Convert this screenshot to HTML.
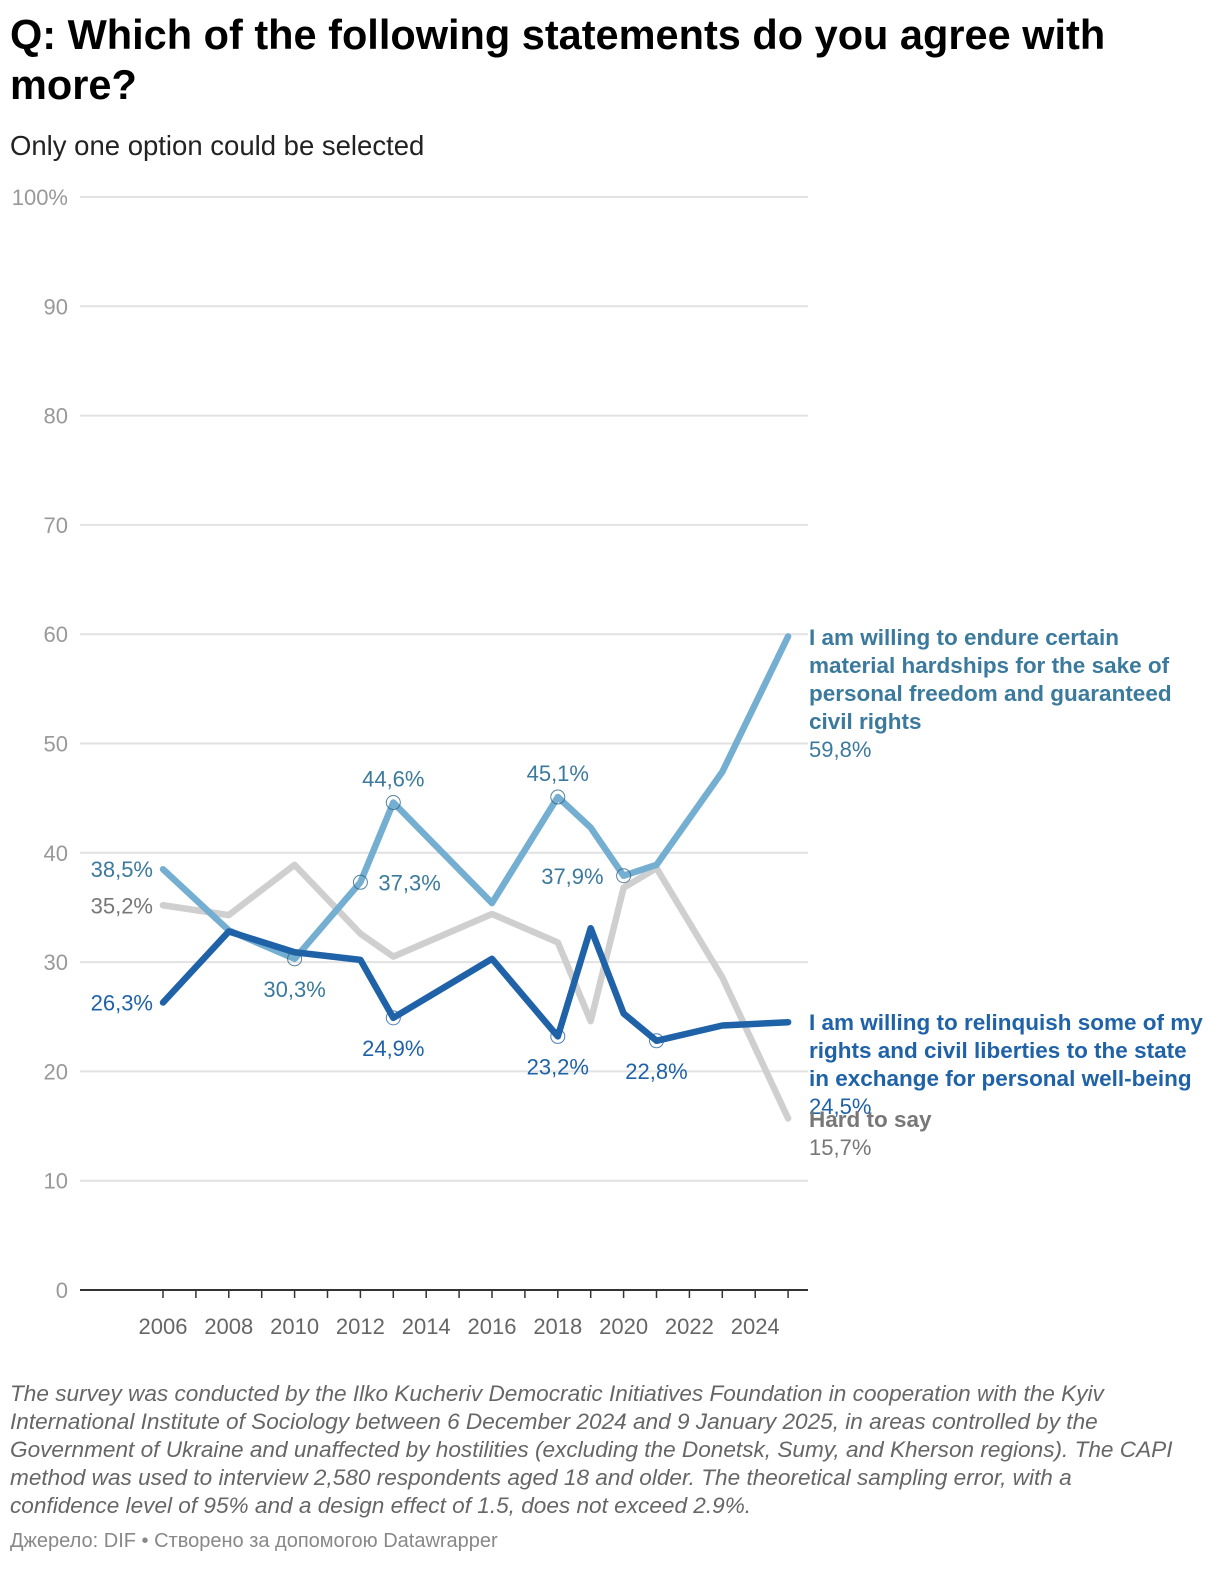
<!DOCTYPE html>
<html><head><meta charset="utf-8">
<style>
body{margin:0;background:#fff;font-family:"Liberation Sans",sans-serif;width:1220px;height:1570px;overflow:hidden;position:relative}
h1{position:absolute;left:10px;top:10px;margin:0;font-size:41.5px;line-height:50px;font-weight:bold;color:#000;width:1180px}
.sub{position:absolute;left:10px;top:130px;font-size:27.5px;color:#222}
.note{position:absolute;left:10px;top:1380px;font-size:22.6px;line-height:28px;font-style:italic;color:#666;white-space:nowrap}
.src{position:absolute;left:10px;top:1530px;font-size:20px;color:#888}
svg{position:absolute;left:0;top:0}
</style></head><body>
<h1>Q: Which of the following statements do you agree with more?</h1>
<div class="sub">Only one option could be selected</div>
<svg id="c" width="1220" height="1370"></svg>
<div class="note">The survey was conducted by the Ilko Kucheriv Democratic Initiatives Foundation in cooperation with the Kyiv<br>International Institute of Sociology between 6 December 2024 and 9 January 2025, in areas controlled by the<br>Government of Ukraine and unaffected by hostilities (excluding the Donetsk, Sumy, and Kherson regions). The CAPI<br>method was used to interview 2,580 respondents aged 18 and older. The theoretical sampling error, with a<br>confidence level of 95% and a design effect of 1.5, does not exceed 2.9%.</div>
<div class="src">Джерело: DIF • Створено за допомогою Datawrapper</div>
<script>
const years=[2006,2008,2010,2012,2013,2016,2018,2019,2020,2021,2023,2025];
const endure=[38.5,32.9,30.3,37.3,44.6,35.4,45.1,42.3,37.9,38.9,47.4,59.8];
const relinquish=[26.3,32.8,30.9,30.2,24.9,30.3,23.2,33.1,25.3,22.8,24.2,24.5];
const hard=[35.2,34.3,38.9,32.6,30.5,34.4,31.8,24.6,36.8,38.6,28.6,15.7];
const yTicks=[0,10,20,30,40,50,60,70,80,90,100];
const xTicks=[2006,2008,2010,2012,2014,2016,2018,2020,2022,2024];
const NS="http://www.w3.org/2000/svg";
const svg=document.getElementById('c');
const X=y=>163+(y-2006)*32.9;
const Y=v=>1290-v*10.93;
function el(t,a,txt){const e=document.createElementNS(NS,t);for(const k in a)e.setAttribute(k,a[k]);if(txt!==undefined)e.textContent=txt;svg.appendChild(e);return e;}
yTicks.forEach(v=>{
 if(v>0){const g=el('line',{x1:80,x2:808,y1:Y(v),y2:Y(v),stroke:'#e2e2e2','stroke-width':2});
 
 }
 const t=el('text',{x:68,y:Y(v)+8,'text-anchor':'end','font-size':22,fill:'#999'},v===100?'100%':v);
 
 
});
const ax=el('line',{x1:80,x2:808,y1:1290,y2:1290,stroke:'#333','stroke-width':2});


for(let y=2006;y<=2025;y++){const tk=el('line',{x1:X(y),x2:X(y),y1:1290,y2:1298,stroke:'#333','stroke-width':1.5});
 
 }
xTicks.forEach(y=>{const t=el('text',{x:X(y),y:1334,'text-anchor':'middle','font-size':22,fill:'#666'},y);
 
 });
function line(vals,col,name){const p=el('polyline',{points:years.map((y,i)=>X(y)+','+Y(vals[i])).join(' '),fill:'none',stroke:col,'stroke-width':6.5,'stroke-linejoin':'round','stroke-linecap':'round'});
 
 }
line(hard,'#cfcfcf','hard-to-say-line');
line(endure,'#74aed0','endure-hardships-line');
line(relinquish,'#1f62a8','relinquish-rights-line');
function mark(vals,idxs,col){idxs.forEach(i=>{const c=el('circle',{cx:X(years[i]),cy:Y(vals[i]),r:7,fill:'none',stroke:col,'stroke-width':1,opacity:0.8});
 
 });}
mark(endure,[2,3,4,6,8],'#2a6486');
mark(relinquish,[4,6,9],'#1f62a8');
function lab(txt,x,y,col,anchor){const t=el('text',{x:x,y:y,'text-anchor':anchor||'middle','font-size':22,fill:col},txt);
 
 }
const fmt=v=>v.toFixed(1).replace('.',',')+'%';
const cE='#3b7a9c',cR='#1f62a8',cH='#777';
lab(fmt(endure[0]),153,Y(endure[0])+8,cE,'end');
lab(fmt(hard[0]),153,Y(hard[0])+8,cH,'end');
lab(fmt(relinquish[0]),153,Y(relinquish[0])+8,cR,'end');
lab(fmt(endure[2]),X(2010),Y(endure[2])+38,cE);
lab(fmt(endure[3]),X(2012)+18,Y(endure[3])+8,cE,'start');
lab(fmt(endure[4]),X(2013),Y(endure[4])-16,cE);
lab(fmt(endure[6]),X(2018),Y(endure[6])-16,cE);
lab(fmt(endure[8]),X(2020)-20,Y(endure[8])+8,cE,'end');
lab(fmt(relinquish[4]),X(2013),Y(relinquish[4])+38,cR);
lab(fmt(relinquish[6]),X(2018),Y(relinquish[6])+38,cR);
lab(fmt(relinquish[9]),X(2021),Y(relinquish[9])+38,cR);
function endLab(lines,v,col,y0){lines.forEach((s,i)=>{const t=el('text',{x:809,y:y0+i*28,'font-size':22.5,'font-weight':'bold',fill:col},s);
 
 });
 lab(fmt(v),809,y0+lines.length*28,col,'start');}
endLab(['I am willing to endure certain','material hardships for the sake of','personal freedom and guaranteed','civil rights'],endure[11],cE,645);
endLab(['I am willing to relinquish some of my','rights and civil liberties to the state','in exchange for personal well-being'],relinquish[11],cR,1030);
endLab(['Hard to say'],hard[11],cH,1127);
</script>
</body></html>
